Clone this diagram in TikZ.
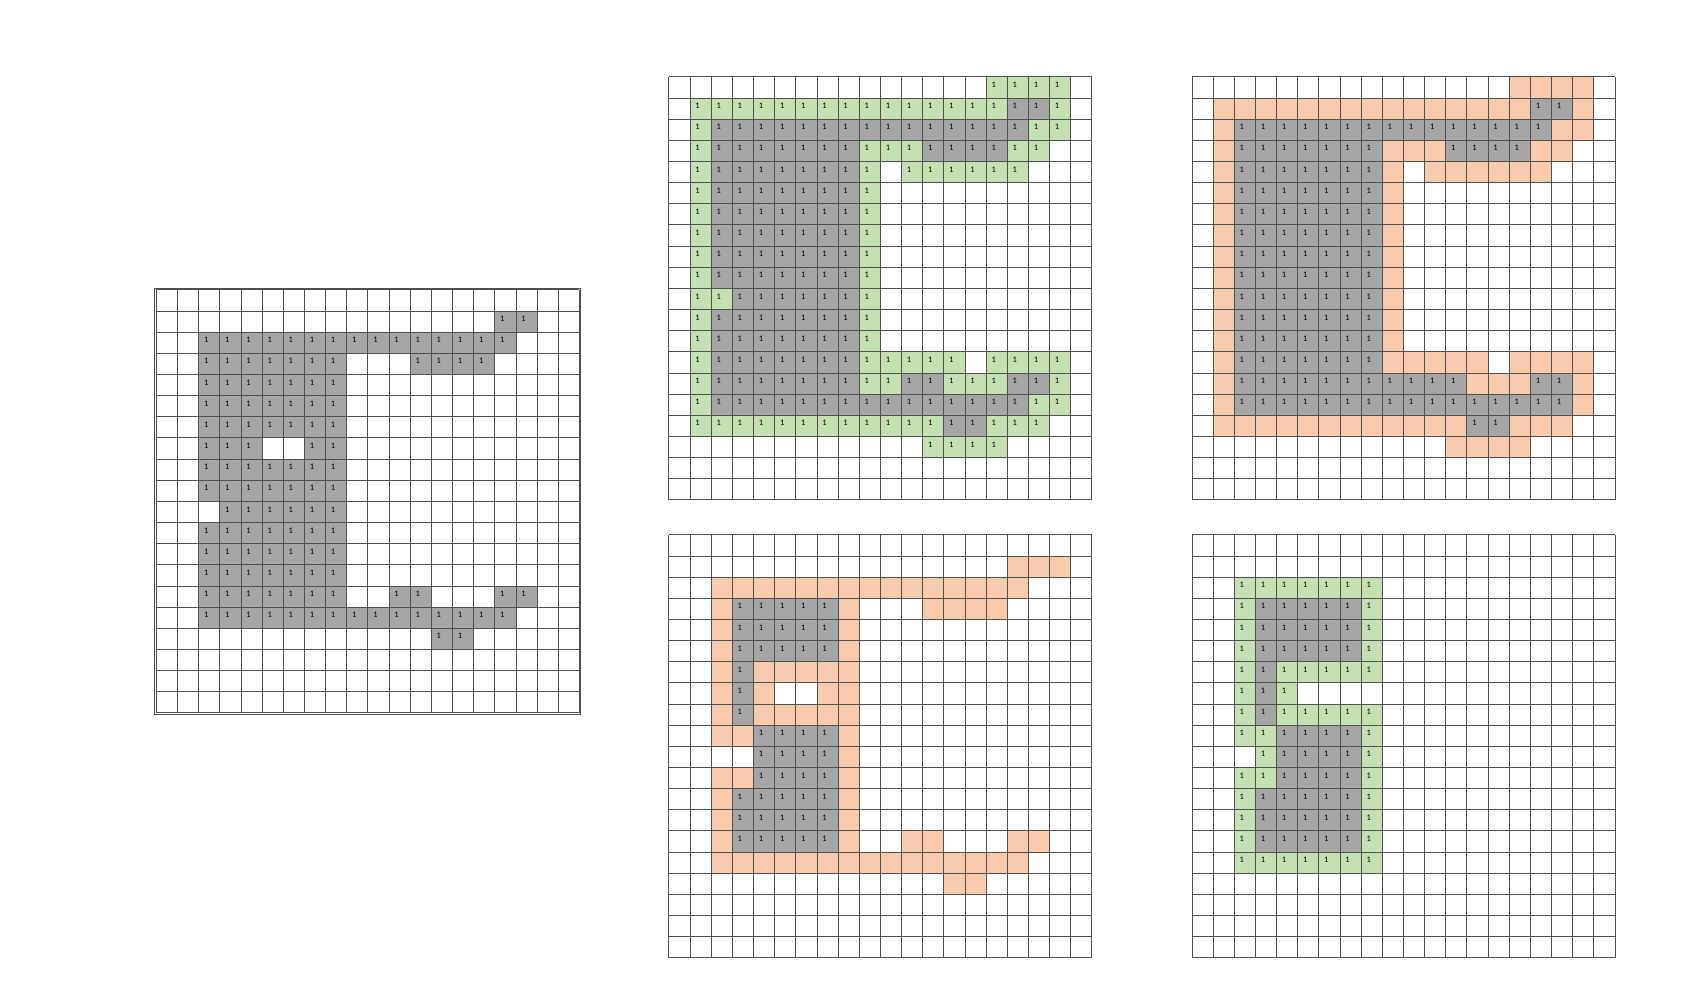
\documentclass[tikz,border=0pt]{standalone}
\usepackage{fontspec}
\newfontfamily\celdafont{Carlito}
\usetikzlibrary{calc}
\definecolor{celdaGris}{HTML}{A6A6A6}
\definecolor{celdaVerde}{HTML}{C6E0B4}
\definecolor{celdaNaranja}{HTML}{F8CBAD}
\definecolor{rejilla}{HTML}{505050}

\begin{document}
\begin{tikzpicture}[x=0.423cm,y=-0.423cm,
    uno/.style={font=\celdafont\fontsize{4.8}{5}\selectfont,inner sep=0pt},
    lineas/.style={rejilla,line width=0.4pt}]
  \useasboundingbox (0,0) rectangle (79.95,46.43);
  % imagen original
  \begin{scope}[shift={(7.39,13.70)}]
    \foreach \r/\a/\b in {1/16/17,2/2/16,3/2/8,3/12/15,4/2/8,5/2/8,6/2/8,7/2/4,7/7/8,8/2/8,9/2/8,
        10/3/8,11/2/8,12/2/8,13/2/8,14/2/8,14/11/12,14/16/17,15/2/16,16/13/14}
      {\foreach \c in {\a,...,\b}
        {\fill[celdaGris] (\c,\r) rectangle ++(1,1);
         \node[uno] (a\r-\c) at (\c+0.36,\r+0.38) {1};}}
    \foreach \i in {0,...,20}
      {\draw[lineas] (\i,0) -- (\i,20); \draw[lineas] (0,\i) -- (20,\i);}
    \draw[lineas] (-0.07,-0.07) rectangle (20.07,20.07);
  \end{scope}
  % arriba: borde verde
  \begin{scope}[shift={(31.62,3.63)}]
    \foreach \r/\a/\b/\col in {1/16/17/celdaGris,2/2/16/celdaGris,3/2/8/celdaGris,3/12/15/celdaGris,
        4/2/8/celdaGris,5/2/8/celdaGris,6/2/8/celdaGris,7/2/8/celdaGris,8/2/8/celdaGris,9/2/8/celdaGris,
        10/3/8/celdaGris,11/2/8/celdaGris,12/2/8/celdaGris,13/2/8/celdaGris,14/2/8/celdaGris,
        14/11/12/celdaGris,14/16/17/celdaGris,15/2/16/celdaGris,16/13/14/celdaGris,
        0/15/18/celdaVerde,1/1/15/celdaVerde,1/18/18/celdaVerde,2/1/1/celdaVerde,2/17/18/celdaVerde,
        3/1/1/celdaVerde,3/9/11/celdaVerde,3/16/17/celdaVerde,4/1/1/celdaVerde,4/9/9/celdaVerde,
        4/11/16/celdaVerde,5/1/1/celdaVerde,5/9/9/celdaVerde,6/1/1/celdaVerde,6/9/9/celdaVerde,
        7/1/1/celdaVerde,7/9/9/celdaVerde,8/1/1/celdaVerde,8/9/9/celdaVerde,9/1/1/celdaVerde,
        9/9/9/celdaVerde,10/1/2/celdaVerde,10/9/9/celdaVerde,11/1/1/celdaVerde,11/9/9/celdaVerde,
        12/1/1/celdaVerde,12/9/9/celdaVerde,13/1/1/celdaVerde,13/9/13/celdaVerde,13/15/18/celdaVerde,
        14/1/1/celdaVerde,14/9/10/celdaVerde,14/13/15/celdaVerde,14/18/18/celdaVerde,
        15/1/1/celdaVerde,15/17/18/celdaVerde,16/1/12/celdaVerde,16/15/17/celdaVerde,17/12/15/celdaVerde}
      {\foreach \c in {\a,...,\b}
        {\fill[\col] (\c,\r) rectangle ++(1,1);
         \node[uno] (b\r-\c) at (\c+0.36,\r+0.38) {1};}}
    \foreach \i in {0,...,20}
      {\draw[lineas] (\i,0) -- (\i,20); \draw[lineas] (0,\i) -- (20,\i);}
  \end{scope}
  % arriba: borde naranja
  \begin{scope}[shift={(56.35,3.63)}]
    \foreach \r/\a/\b in {0/15/18,1/1/15,1/18/18,2/1/1,2/17/18,3/1/1,3/9/11,3/16/17,4/1/1,4/9/9,
        4/11/16,5/1/1,5/9/9,6/1/1,6/9/9,7/1/1,7/9/9,8/1/1,8/9/9,9/1/1,9/9/9,10/1/1,10/9/9,11/1/1,
        11/9/9,12/1/1,12/9/9,13/1/1,13/9/13,13/15/18,14/1/1,14/13/15,14/18/18,15/1/1,15/18/18,
        16/1/12,16/15/17,17/12/15}
      {\foreach \c in {\a,...,\b}
        {\fill[celdaNaranja] (\c,\r) rectangle ++(1,1);}}
    \foreach \r/\a/\b in {1/16/17,2/2/16,3/2/8,3/12/15,4/2/8,5/2/8,6/2/8,7/2/8,8/2/8,9/2/8,
        10/2/8,11/2/8,12/2/8,13/2/8,14/2/12,14/16/17,15/2/17,16/13/14}
      {\foreach \c in {\a,...,\b}
        {\fill[celdaGris] (\c,\r) rectangle ++(1,1);
         \node[uno] (c\r-\c) at (\c+0.36,\r+0.38) {1};}}
    \foreach \i in {0,...,20}
      {\draw[lineas] (\i,0) -- (\i,20); \draw[lineas] (0,\i) -- (20,\i);}
  \end{scope}
  % abajo: borde naranja
  \begin{scope}[shift={(31.62,25.28)}]
    \foreach \r/\a/\b in {1/16/18,2/2/16,3/2/2,3/8/8,3/12/15,4/2/2,4/8/8,5/2/2,5/8/8,6/2/2,6/4/8,
        7/2/2,7/4/4,7/7/8,8/2/2,8/4/8,9/2/3,9/8/8,10/8/8,11/2/3,11/8/8,12/2/2,12/8/8,13/2/2,
        13/8/8,14/2/2,14/8/8,14/11/12,14/16/17,15/2/16,16/13/14}
      {\foreach \c in {\a,...,\b}
        {\fill[celdaNaranja] (\c,\r) rectangle ++(1,1);}}
    \foreach \r/\a/\b in {3/3/7,4/3/7,5/3/7,6/3/3,7/3/3,8/3/3,9/4/7,10/4/7,11/4/7,12/3/7,13/3/7,14/3/7}
      {\foreach \c in {\a,...,\b}
        {\fill[celdaGris] (\c,\r) rectangle ++(1,1);
         \node[uno] (d\r-\c) at (\c+0.36,\r+0.38) {1};}}
    \foreach \i in {0,...,20}
      {\draw[lineas] (\i,0) -- (\i,20); \draw[lineas] (0,\i) -- (20,\i);}
  \end{scope}
  % abajo: borde verde
  \begin{scope}[shift={(56.35,25.28)}]
    \foreach \r/\a/\b/\col in {3/3/7/celdaGris,4/3/7/celdaGris,5/3/7/celdaGris,6/3/3/celdaGris,
        7/3/3/celdaGris,8/3/3/celdaGris,9/4/7/celdaGris,10/4/7/celdaGris,11/4/7/celdaGris,
        12/3/7/celdaGris,13/3/7/celdaGris,14/3/7/celdaGris,
        2/2/8/celdaVerde,3/2/2/celdaVerde,3/8/8/celdaVerde,4/2/2/celdaVerde,4/8/8/celdaVerde,
        5/2/2/celdaVerde,5/8/8/celdaVerde,6/2/2/celdaVerde,6/4/8/celdaVerde,7/2/2/celdaVerde,
        7/4/4/celdaVerde,8/2/2/celdaVerde,8/4/8/celdaVerde,9/2/3/celdaVerde,9/8/8/celdaVerde,
        10/3/3/celdaVerde,10/8/8/celdaVerde,11/2/3/celdaVerde,11/8/8/celdaVerde,12/2/2/celdaVerde,
        12/8/8/celdaVerde,13/2/2/celdaVerde,13/8/8/celdaVerde,14/2/2/celdaVerde,14/8/8/celdaVerde,
        15/2/8/celdaVerde}
      {\foreach \c in {\a,...,\b}
        {\fill[\col] (\c,\r) rectangle ++(1,1);
         \node[uno] (e\r-\c) at (\c+0.36,\r+0.38) {1};}}
    \foreach \i in {0,...,20}
      {\draw[lineas] (\i,0) -- (\i,20); \draw[lineas] (0,\i) -- (20,\i);}
  \end{scope}
\end{tikzpicture}
\end{document}
